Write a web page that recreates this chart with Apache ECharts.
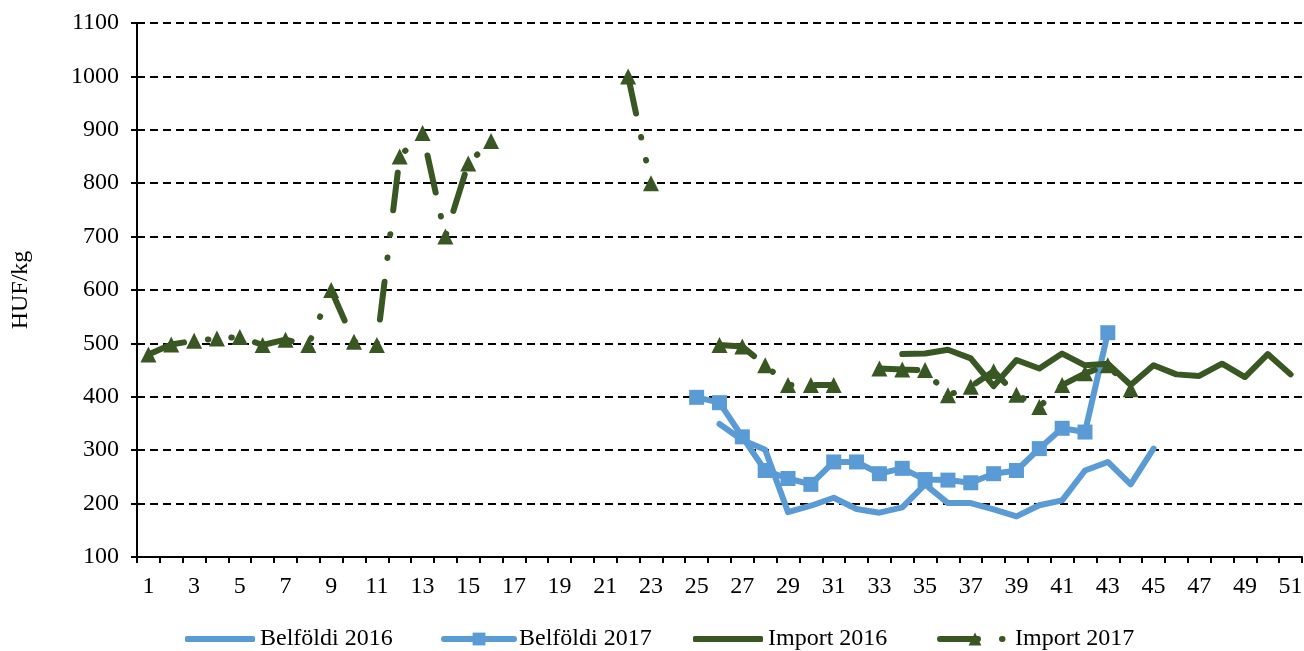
<!DOCTYPE html>
<html>
<head>
<meta charset="utf-8">
<script src="https://cdn.jsdelivr.net/npm/echarts@6/dist/echarts.min.js"></script>
<style>
html,body{margin:0;padding:0;background:#fff;}
#chart{width:1304px;height:651px;}
</style>
</head>
<body>
<div id="chart"></div>
<script>
var weeks = ['1','2','3','4','5','6','7','8','9','10','11','12','13','14','15','16','17','18','19','20','21','22','23','24','25','26','27','28','29','30','31','32','33','34','35','36','37','38','39','40','41','42','43','44','45','46','47','48','49','50','51'];

var belfoldi2016 = [null,null,null,null,null,null,null,null,null,null,null,null,null,null,null,null,null,null,null,null,null,null,null,null,null,
  349,319,301,184,196,211,190,183,193,236,201,201,189,176,197,206,262,278,236,303,null,null,null,null,null,null];

var belfoldi2017 = [null,null,null,null,null,null,null,null,null,null,null,null,null,null,null,null,null,null,null,null,null,null,null,null,
  399,389,325,262,247,236,278,278,256,266,245,244,239,256,262,303,341,334,520,null,null,null,null,null,null,null,null];

var import2016 = [null,null,null,null,null,null,null,null,null,null,null,null,null,null,null,null,null,null,null,null,null,null,null,null,null,null,null,null,null,null,null,null,null,
  480,481,488,472,420,469,453,481,459,462,422,459,442,439,462,437,480,442];

var import2017 = [479,498,505,509,512,497,507,497,600,503,497,850,894,700,837,879,null,null,null,null,null,1000,800,null,null,
  497,494,459,422,422,422,null,453,451,450,403,419,448,404,381,422,444,459,414,null,null,null,null,null,null,null];

var yTicks = {min:100, max:1100, interval:100};

var BLUE = '#5B9BD5';
var GREEN = '#385723';
var FONT = 'Liberation Serif';
var DASH = [38,24,0.5,23,0.5,24];

var chart = echarts.init(document.getElementById('chart'), null, {renderer:'canvas'});

function legendAt(name, left, plain, color, dash){
  var lg = {
    data:[plain ? {name:name, icon:'roundRect'} : {name:name}],
    left:left, top:622, orient:'horizontal',
    itemWidth:70, itemHeight: plain ? 6 : 16, itemGap:0,
    textStyle:{fontFamily:FONT, fontSize:24, color:'#000'},
    selectedMode:false
  };
  if (plain) {
    lg.itemStyle = {color:color, borderWidth:0};
  } else {
    lg.lineStyle = {color:color, width:6, cap:'round', type: dash || 'solid'};
  }
  return lg;
}

var option = {
  animation:false,
  backgroundColor:'#fff',
  grid:{left:137, right:2, top:23, bottom:94, containLabel:false, outerBoundsMode:'none'},
  legend:[
    legendAt('Belföldi 2016', 180, true, BLUE),
    legendAt('Belföldi 2017', 436, false, BLUE),
    legendAt('Import 2016', 688, true, GREEN),
    legendAt('Import 2017', 932, false, GREEN, DASH)
  ],
  xAxis:{
    type:'category', data:weeks, boundaryGap:true,
    axisLine:{lineStyle:{color:'#000', width:2}},
    axisTick:{show:true, interval:0, length:6, lineStyle:{color:'#000', width:2}},
    axisLabel:{interval:1, margin:18, fontFamily:FONT, fontSize:24, color:'#000'},
    splitLine:{show:false}
  },
  yAxis:{
    type:'value', min:yTicks.min, max:yTicks.max, interval:yTicks.interval,
    name:'HUF/kg', nameLocation:'middle', nameGap:104, nameRotate:90,
    nameTextStyle:{fontFamily:FONT, fontSize:24, color:'#000'},
    axisLine:{show:true, lineStyle:{color:'#000', width:2}},
    axisTick:{show:true, length:6, lineStyle:{color:'#000', width:2}},
    axisLabel:{margin:18, fontFamily:FONT, fontSize:24, color:'#000',
      formatter:function(v){return String(v);}},
    splitLine:{show:true, lineStyle:{color:'#000', width:2, type:[8,5]}}
  },
  series:[
    {
      name:'Belföldi 2016', type:'line', data:belfoldi2016, showSymbol:false, symbol:'none',
      connectNulls:false, z:2,
      lineStyle:{color:BLUE, width:6, cap:'round', join:'round'},
      itemStyle:{color:BLUE}
    },
    {
      name:'Belföldi 2017', type:'line', data:belfoldi2017, symbol:'rect', symbolSize:15,
      showAllSymbol:true, connectNulls:false, z:3,
      lineStyle:{color:BLUE, width:6, cap:'round', join:'round'},
      itemStyle:{color:BLUE}
    },
    {
      name:'Import 2016', type:'line', data:import2016, showSymbol:false, symbol:'none',
      connectNulls:false, z:4,
      lineStyle:{color:GREEN, width:6, cap:'round', join:'round'},
      itemStyle:{color:GREEN}
    },
    {
      name:'Import 2017', type:'line', data:import2017, symbol:'triangle', symbolSize:16,
      showAllSymbol:true, connectNulls:false, z:5,
      lineStyle:{color:GREEN, width:6, cap:'round', join:'round', type:DASH},
      itemStyle:{color:GREEN}
    }
  ]
};
chart.setOption(option);
</script>
</body>
</html>
